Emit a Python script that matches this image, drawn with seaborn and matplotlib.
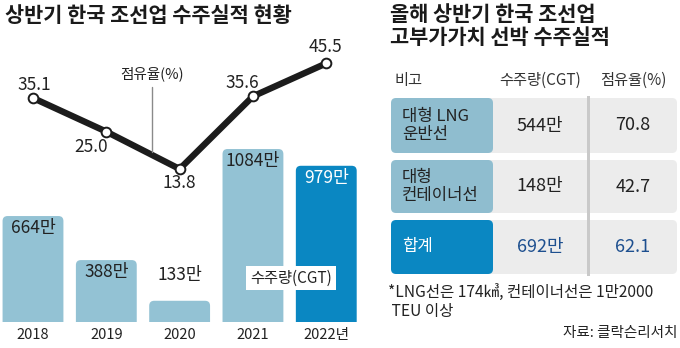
import numpy as np
import pandas as pd
import matplotlib
matplotlib.use("Agg")
import matplotlib.pyplot as plt
import seaborn as sns
from matplotlib.patches import FancyBboxPatch, Rectangle
from matplotlib.lines import Line2D

# ---------------- data ----------------
years = ["2018", "2019", "2020", "2021", "2022년"]
cgt = [664, 388, 133, 1084, 979]          # 만 CGT
share = [35.1, 25.0, 13.8, 35.6, 45.5]    # %

table_rows = ["대형 LNG\n운반선", "대형\n컨테이너선", "합계"]
table_cgt = ["544만", "148만", "692만"]
table_share = ["70.8", "42.7", "62.1"]
table_header = ["비고", "수주량(CGT)", "점유율(%)"]

title_left = "상반기 한국 조선업 수주실적 현황"
title_right = "올해 상반기 한국 조선업\n고부가가치 선박 수주실적"
footnote = "*LNG선은 174㎦, 컨테이너선은 1만2000\n TEU 이상"
source = "자료: 클락슨리서치"

# ---------------- style ----------------
sns.set_theme(style="white")
plt.rcParams["font.family"] = ["Noto Sans CJK KR", "DejaVu Sans"]

LIGHT = "#93c2d4"
DARK = "#0a87c2"
CELL_LIGHT = "#8fbdcf"
GRAY = "#ececec"
NUMBLUE = "#1d4f8f"
TXT = "#222222"

W, H = 680, 348
fig = plt.figure(figsize=(W / 100, H / 100), dpi=100)

def fx(x):
    return x / W

def fy(y):
    return 1 - y / H

# ---------------- left chart ----------------
ax_bottom_px = 26
ax_h_px = 300
ax = fig.add_axes([0, ax_bottom_px / H, 360 / W, ax_h_px / H])
df = pd.DataFrame({"year": years, "cgt": cgt})
sns.barplot(data=df, x="year", y="cgt", hue="year",
            palette=[LIGHT, LIGHT, LIGHT, LIGHT, DARK], legend=False,
            width=0.83, ax=ax, saturation=1)
ax.set_xlim(-0.45, 4.46)
ax.set_ylim(0, 1880)

# rounded top corners
x_unit_px = 360 / 4.91
y_unit_px = ax_h_px / 1880
r_px = 5
for p in list(ax.patches):
    x0, w = p.get_x(), p.get_width()
    h = p.get_height()
    fc = p.get_facecolor()
    p.set_visible(False)
    rs = r_px / x_unit_px
    asp = (r_px / y_unit_px) / rs
    fb = FancyBboxPatch((x0, -200), w, h + 200,
                        boxstyle=f"round,pad=0,rounding_size={rs}",
                        mutation_aspect=asp, facecolor=fc, edgecolor="none",
                        clip_on=True, zorder=2)
    ax.add_patch(fb)

for s in ax.spines.values():
    s.set_visible(False)
ax.set_xlabel("")
ax.set_ylabel("")
ax.set_yticks([])
ax.tick_params(axis="x", length=0, pad=4, labelsize=10.5, labelcolor=TXT)

# bar value labels
for i, v in enumerate(cgt):
    if v < 200:
        ax.annotate(f"{v}만", (i, v), xytext=(0, 26 * 0.72), textcoords="offset points",
                    ha="center", va="center", fontsize=12.5, color=TXT, zorder=5)
    else:
        col = "white" if i == 4 else TXT
        ax.annotate(f"{v}만", (i, v), xytext=(0, -12 * 0.72), textcoords="offset points",
                    ha="center", va="center", fontsize=12.5, color=col, zorder=5)

# line chart
ax2 = ax.twinx()
ax2.set_position(ax.get_position())
dfl = pd.DataFrame({"year": years, "share": share})
sns.pointplot(data=dfl, x="year", y="share", color="#1c1c1c", ax=ax2,
              markers="o", linewidth=4.6, markersize=7, errorbar=None)
for ln in ax2.lines:
    ln.set_markerfacecolor("white")
    ln.set_markeredgecolor("#1c1c1c")
    ln.set_markeredgewidth(1.4)
    ln.set_solid_joinstyle("miter")
    ln.set_zorder(4)
ax2.set_xlim(-0.45, 4.46)
ax2.set_ylim(-32.1, 57.9)
ax2.set_yticks([])
ax2.set_xlabel("")
ax2.set_ylabel("")
for s in ax2.spines.values():
    s.set_visible(False)

offsets = [(1, 13), (-15, -15), (0, -14), (-11, 13), (-1, 16)]
for i, v in enumerate(share):
    dx, dy = offsets[i]
    ax2.annotate(f"{v:.1f}", (i, v), xytext=(dx * 0.72, dy * 0.72),
                 textcoords="offset points", ha="center", va="center",
                 fontsize=12.5, color=TXT, zorder=6)

# series labels
fig.text(fx(152), fy(74), "점유율(%)", ha="center", va="center", fontsize=10.5, color=TXT)
fig.add_artist(Line2D([fx(152), fx(152)], [fy(87), fy(152)], color="#8a8a8a", lw=1))
fig.text(fx(291), fy(278), "수주량(CGT)", ha="center", va="center", fontsize=11, color=TXT,
         bbox=dict(boxstyle="square,pad=0.25", facecolor="white", edgecolor="none"), zorder=10)

fig.text(fx(5), fy(15), title_left, ha="left", va="center", fontsize=15, fontweight="bold", color="#1a1a1a")

# ---------------- right table ----------------
axt = fig.add_axes([360 / W, 0, 320 / W, 1])
axt.set_xlim(360, 680)
axt.set_ylim(348, 0)
axt.axis("off")

axt.text(390, 26, title_right, ha="left", va="center", fontsize=15, fontweight="bold",
         color="#1a1a1a", linespacing=1.15)

axt.text(395, 80, table_header[0], ha="left", va="center", fontsize=11, color="#333333")
axt.text(540, 80, table_header[1], ha="center", va="center", fontsize=11, color="#333333")
axt.text(633, 80, table_header[2], ha="center", va="center", fontsize=11, color="#333333")

rows_y = [(98, 153), (160, 213), (220, 274)]
left_colors = [CELL_LIGHT, CELL_LIGHT, DARK]
for k, (y0, y1) in enumerate(rows_y):
    axt.add_patch(FancyBboxPatch((480, y0), 677 - 480, y1 - y0,
                                 boxstyle="round,pad=0,rounding_size=5",
                                 facecolor=GRAY, edgecolor="none", zorder=1))
    axt.add_patch(FancyBboxPatch((391, y0), 493 - 391, y1 - y0,
                                 boxstyle="round,pad=0,rounding_size=5",
                                 facecolor=left_colors[k], edgecolor="none", zorder=2))
    yc = (y0 + y1) / 2
    lab_col = "white" if k == 2 else TXT
    num_col = NUMBLUE if k == 2 else TXT
    axt.text(402, yc, table_rows[k], ha="left", va="center", fontsize=12,
             color=lab_col, linespacing=1.05, zorder=3)
    axt.text(540, yc, table_cgt[k], ha="center", va="center", fontsize=13,
             color=num_col, zorder=3)
    axt.text(633, yc, table_share[k], ha="center", va="center", fontsize=13,
             color=num_col, zorder=3)

axt.add_patch(Rectangle((586.5, 96), 3, 180, facecolor="#c9c9c9", edgecolor="none", zorder=2))

axt.text(388, 302, footnote, ha="left", va="center", fontsize=11.2, color=TXT, linespacing=1.1)
axt.text(677, 333, source, ha="right", va="center", fontsize=10.5, color=TXT)

fig.savefig("out.png", dpi=100, facecolor="white")
